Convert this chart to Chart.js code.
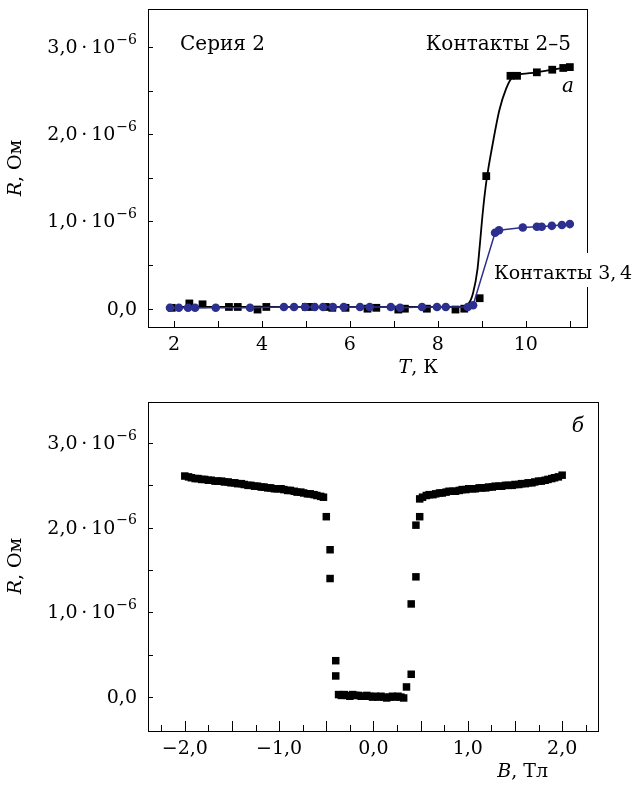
<!DOCTYPE html>
<html><head><meta charset="utf-8">
<script src="https://cdn.jsdelivr.net/npm/chart.js@4"></script>
<style>
html,body{margin:0;padding:0;background:#fff}
canvas{display:block}
</style></head><body>
<canvas id="chartT" width="641" height="390"></canvas>
<canvas id="chartB" width="641" height="396"></canvas>
<script>
/* ---- panel a: R(T), values of R in units of 1e-6 Ohm ---- */
const tempBlack = [1.95,2.35,2.65,3.25,3.45,3.9,4.1,5.0,5.15,5.45,5.6,5.9,6.4,6.6,7.1,7.25,7.75,8.4,8.6,8.95,9.1,9.65,9.8,10.25,10.6,10.85,11.0];
const resBlack  = [0.01,0.06,0.05,0.02,0.02,-0.01,0.02,0.02,0.02,0.02,0.01,0.01,0.0,0.01,-0.01,0.0,0.0,-0.01,0.0,0.12,1.52,2.67,2.67,2.71,2.74,2.76,2.77];
const tempFit = [1.95,8.5,8.7,8.8,8.9,8.95,9.02,9.1,9.25,9.4,9.55,9.7,9.8,10.25,10.6,11.0];
const resFit  = [0.02,0.02,0.06,0.18,0.45,0.71,1.1,1.45,1.9,2.28,2.52,2.66,2.68,2.71,2.74,2.77];
const tempBlue = [1.91,2.11,2.32,2.48,2.95,3.73,4.5,4.73,4.98,5.2,5.39,5.61,5.86,6.23,6.45,6.93,7.14,7.64,7.98,8.18,8.68,8.8,9.3,9.39,9.93,10.25,10.36,10.59,10.82,11.0];
const resBlue  = [0.01,0.01,0.01,0.01,0.01,0.01,0.02,0.02,0.02,0.02,0.02,0.02,0.02,0.02,0.02,0.02,0.01,0.02,0.02,0.02,0.02,0.04,0.87,0.9,0.93,0.94,0.94,0.95,0.96,0.97];
const xTicksT = [2,3,4,5,6,7,8,9,10,11];
const xLabelsT = [2,4,6,8,10];

/* ---- panel б: R(B) ---- */
const fieldB = [-2.00,-1.96,-1.93,-1.89,-1.86,-1.82,-1.79,-1.75,-1.72,-1.68,-1.65,-1.61,-1.58,-1.54,-1.51,-1.47,-1.44,-1.40,-1.37,-1.33,-1.30,-1.26,-1.23,-1.19,-1.16,-1.12,-1.09,-1.05,-1.02,-0.98,-0.95,-0.91,-0.88,-0.84,-0.81,-0.77,-0.74,-0.70,-0.67,-0.63,-0.60,-0.56,-0.53,
  -0.50,-0.46,-0.46,-0.40,-0.40,
  -0.37,-0.34,-0.31,-0.28,-0.25,-0.22,-0.19,-0.16,-0.13,-0.10,-0.07,-0.04,-0.01,0.02,0.05,0.08,0.11,0.14,0.17,0.20,0.23,0.26,0.29,0.32,
  0.35,0.40,0.40,0.45,0.45,0.49,
  0.49,0.52,0.56,0.59,0.63,0.66,0.70,0.73,0.77,0.80,0.84,0.87,0.91,0.94,0.98,1.01,1.05,1.08,1.12,1.15,1.19,1.22,1.26,1.29,1.33,1.36,1.40,1.43,1.47,1.50,1.54,1.57,1.61,1.64,1.68,1.71,1.75,1.78,1.82,1.85,1.89,1.92,1.96,2.00];
const resB = [2.61,2.60,2.59,2.58,2.58,2.57,2.57,2.56,2.56,2.55,2.55,2.55,2.54,2.54,2.53,2.53,2.52,2.52,2.51,2.50,2.50,2.49,2.49,2.48,2.48,2.47,2.47,2.46,2.46,2.46,2.45,2.44,2.44,2.43,2.42,2.42,2.41,2.40,2.40,2.39,2.38,2.37,2.36,
  2.13,1.74,1.40,0.43,0.25,
  0.03,0.02,0.03,0.02,0.01,0.03,0.02,0.02,0.01,0.01,0.02,0.01,0.00,0.01,0.00,0.01,0.00,-0.01,0.00,0.01,0.00,0.01,0.00,-0.01,
  0.12,0.27,1.10,1.42,2.03,2.13,
  2.34,2.36,2.38,2.39,2.39,2.40,2.41,2.41,2.42,2.43,2.43,2.43,2.44,2.45,2.45,2.46,2.46,2.46,2.47,2.47,2.47,2.48,2.48,2.49,2.49,2.49,2.50,2.50,2.50,2.51,2.51,2.52,2.52,2.53,2.53,2.54,2.55,2.55,2.56,2.57,2.58,2.59,2.60,2.62];
const xTicksB = [-2.25,-2,-1.75,-1.5,-1.25,-1,-0.75,-0.5,-0.25,0,0.25,0.5,0.75,1,1.25,1.5,1.75,2,2.25];
const xLabelsB = [-2,-1,0,1,2];

const yTicks = [0,0.5,1,1.5,2,2.5,3];
const yLabels = [0,1,2,3];

const FONT = '"DejaVu Serif", "Liberation Serif", serif';
const BLUE = '#2d2f8f';

const pts = (xs, ys) => xs.map((x, i) => ({x, y: ys[i]}));
const fmt = v => (v < 0 ? '\u2212' : '') + Math.abs(v).toFixed(1).replace('.', ',');

// frame, inward ticks, tick labels and axis titles
function framePlugin(cfg) {
  return {
    id: 'frame',
    afterDraw(chart) {
      const {ctx, chartArea: a, scales: {x, y}} = chart;
      ctx.save();
      ctx.strokeStyle = '#000';
      ctx.lineWidth = 1;
      ctx.strokeRect(Math.round(a.left) + 0.5, Math.round(a.top) + 0.5, Math.round(a.right - a.left), Math.round(a.bottom - a.top));
      ctx.beginPath();
      cfg.yTicks.forEach(v => {
        const py = Math.round(y.getPixelForValue(v)) + 0.5;
        ctx.moveTo(a.left, py); ctx.lineTo(a.left + 5, py);
      });
      cfg.xTicks.forEach(v => {
        const px = Math.round(x.getPixelForValue(v)) + 0.5;
        const len = cfg.tallX && Math.abs(v * 2 - Math.round(v * 2)) < 1e-6 ? 10 : 6;
        ctx.moveTo(px, a.bottom); ctx.lineTo(px, a.bottom - len);
      });
      ctx.stroke();

      ctx.fillStyle = '#000';
      ctx.textBaseline = 'middle';
      cfg.yLabels.forEach(v => {
        const py = y.getPixelForValue(v);
        let right = 137;
        ctx.textAlign = 'right';
        if (v !== 0) {
          ctx.font = '14px ' + FONT;
          ctx.fillText('\u22126', right, py - 7);
          right -= ctx.measureText('\u22126').width + 1;
          ctx.font = '19px ' + FONT;
          ctx.fillText(fmt(v) + '\u2009\u00b7\u200910', right, py + 1);
        } else {
          ctx.font = '19px ' + FONT;
          ctx.fillText(fmt(v), right, py + 1);
        }
      });
      ctx.textAlign = 'center';
      ctx.font = '19px ' + FONT;
      cfg.xLabels.forEach(v => {
        ctx.fillText(cfg.xFmt(v), x.getPixelForValue(v), a.bottom + 18);
      });

      // axis titles
      ctx.font = 'italic 19px ' + FONT;
      const tw = ctx.measureText(cfg.xTitle[0]).width;
      ctx.font = '19px ' + FONT;
      const rw = ctx.measureText(cfg.xTitle[1]).width;
      const tx = cfg.xTitleRight - tw - rw, ty = a.bottom + 41;
      ctx.textAlign = 'left';
      ctx.font = 'italic 19px ' + FONT;
      ctx.fillText(cfg.xTitle[0], tx, ty);
      ctx.font = '19px ' + FONT;
      ctx.fillText(cfg.xTitle[1], tx + tw, ty);

      ctx.translate(16, cfg.yTitleY);
      ctx.rotate(-Math.PI / 2);
      ctx.font = 'italic 19px ' + FONT;
      const rw0 = ctx.measureText('R').width;
      ctx.font = '19px ' + FONT;
      const rw1 = ctx.measureText(', Ом').width;
      ctx.font = 'italic 19px ' + FONT;
      ctx.fillText('R', -(rw0 + rw1) / 2, 0);
      ctx.font = '19px ' + FONT;
      ctx.fillText(', Ом', -(rw0 + rw1) / 2 + rw0, 0);
      ctx.restore();

      ctx.save();
      cfg.notes(ctx, a);
      ctx.restore();
    }
  };
}

const baseOpts = (xmin, xmax, ymin, ymax, pad) => ({
  responsive: false,
  animation: false,
  events: [],
  layout: {padding: pad, autoPadding: false},
  plugins: {legend: {display: false}, tooltip: {enabled: false}},
  scales: {
    x: {type: 'linear', min: xmin, max: xmax, display: false},
    y: {type: 'linear', min: ymin, max: ymax, display: false}
  }
});

new Chart(document.getElementById('chartT'), {
  type: 'scatter',
  data: {
    datasets: [
      {data: pts(tempBlue, resBlue), showLine: true, borderColor: BLUE, borderWidth: 1.5, backgroundColor: BLUE,
       pointStyle: 'circle', pointRadius: 4.3, pointBorderWidth: 0, tension: 0},
      {data: pts(tempBlack, resBlack), showLine: false, backgroundColor: '#000', borderColor: '#000',
       pointStyle: 'rect', pointRadius: 5.5, pointBorderWidth: 0},
      {data: pts(tempFit, resFit), showLine: true, borderColor: '#000', borderWidth: 1.8, pointRadius: 0,
       cubicInterpolationMode: 'monotone'}
    ]
  },
  options: baseOpts(1.41, 11.39, -0.21, 3.436, {left: 148, top: 9, right: 54, bottom: 63}),
  plugins: [framePlugin({
    yTicks, yLabels, xTicks: xTicksT, xLabels: xLabelsT, tallX: false,
    xFmt: v => String(v), xTitle: ['T', ', К'], xTitleRight: 438, yTitleY: 168,
    notes(ctx, a) {
      ctx.fillStyle = '#000';
      ctx.textBaseline = 'alphabetic';
      ctx.font = '20px ' + FONT;
      ctx.textAlign = 'left';
      ctx.fillText('Серия 2', 180, 50);
      ctx.textAlign = 'right';
      ctx.fillText('Контакты 2\u20135', 571, 50);
      ctx.font = 'italic 20px ' + FONT;
      ctx.fillText('a', 574, 92);
      ctx.fillStyle = '#fff';
      ctx.fillRect(490, 253, 145, 34);
      ctx.fillStyle = '#000';
      ctx.font = '19px ' + FONT;
      ctx.textAlign = 'left';
      ctx.fillText('Контакты 3,\u20094', 494, 279);
    }
  })]
});

new Chart(document.getElementById('chartB'), {
  type: 'scatter',
  data: {
    datasets: [
      {data: pts(fieldB, resB), showLine: false, backgroundColor: '#000', borderColor: '#000',
       pointStyle: 'rect', pointRadius: 5.3, pointBorderWidth: 0}
    ]
  },
  options: baseOpts(-2.39, 2.38, -0.40, 3.484, {left: 148, top: 12, right: 43, bottom: 55}),
  plugins: [framePlugin({
    yTicks, yLabels, xTicks: xTicksB, xLabels: xLabelsB, tallX: true,
    xFmt: fmt, xTitle: ['B', ', Тл'], xTitleRight: 548, yTitleY: 176,
    notes(ctx, a) {
      ctx.fillStyle = '#000';
      ctx.textBaseline = 'alphabetic';
      ctx.font = 'italic 20px ' + FONT;
      ctx.textAlign = 'right';
      ctx.fillText('б', 584, 42);
    }
  })]
});
</script>
</body></html>
